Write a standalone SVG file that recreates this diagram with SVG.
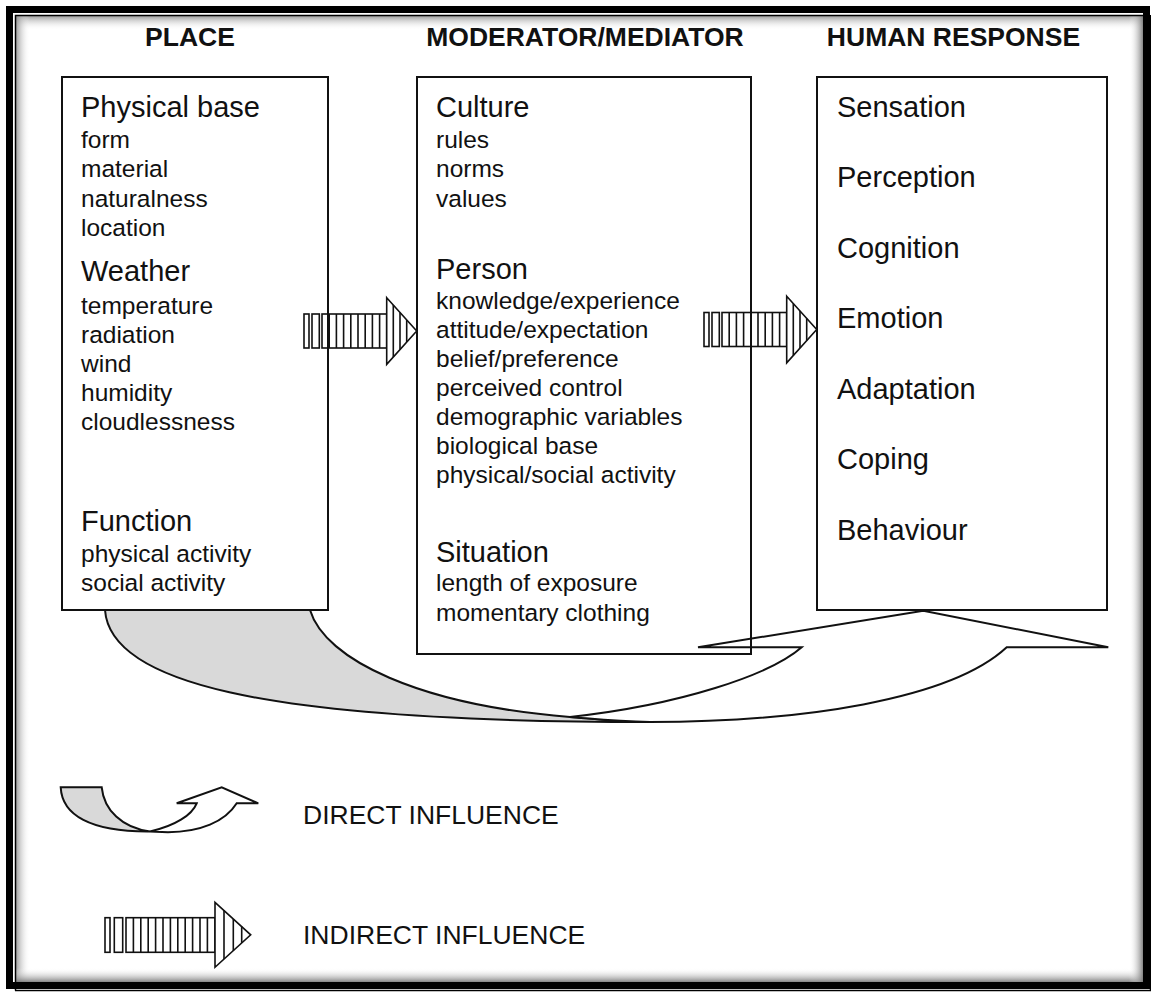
<svg xmlns="http://www.w3.org/2000/svg" width="1151" height="993" viewBox="0 0 1151 993">
<style>
.hdr{font-family:"Liberation Sans",Arial,sans-serif;font-weight:bold;font-size:26.5px;fill:#111;text-anchor:middle}
.big{font-family:"Liberation Sans",Arial,sans-serif;font-size:29px;fill:#111}
.sm{font-family:"Liberation Sans",Arial,sans-serif;font-size:24.5px;fill:#111}
.leg{font-family:"Liberation Sans",Arial,sans-serif;font-size:26.5px;fill:#111}
.box{fill:none;stroke:#111;stroke-width:2}
.sa{fill:#fff;stroke:#111;stroke-width:1.6}
.sl{stroke:#111;stroke-width:1.6;fill:none}
.back{fill:#d9d9d9;stroke:#111;stroke-width:2}
.front{fill:#fff;stroke:#111;stroke-width:2;stroke-linejoin:miter}
</style>
<defs>
<linearGradient id="gT" x1="0" y1="0" x2="0" y2="1"><stop offset="0" stop-color="#888" stop-opacity="0.8"/><stop offset="1" stop-color="#fff" stop-opacity="0"/></linearGradient>
<linearGradient id="gL" x1="0" y1="0" x2="1" y2="0"><stop offset="0" stop-color="#888" stop-opacity="0.8"/><stop offset="1" stop-color="#fff" stop-opacity="0"/></linearGradient>
<linearGradient id="gB" x1="0" y1="1" x2="0" y2="0"><stop offset="0" stop-color="#777" stop-opacity="0.9"/><stop offset="1" stop-color="#fff" stop-opacity="0"/></linearGradient>
<linearGradient id="gR" x1="1" y1="0" x2="0" y2="0"><stop offset="0" stop-color="#777" stop-opacity="0.9"/><stop offset="1" stop-color="#fff" stop-opacity="0"/></linearGradient>
<g id="stripeArrow">
<rect class="sa" x="0" y="-17" width="5" height="34"/>
<rect class="sa" x="8" y="-17" width="7.3" height="34"/>
<rect class="sa" x="18" y="-17" width="64.7" height="34"/>
<path class="sl" d="M25.2,-17V17M32.4,-17V17M39.6,-17V17M46.8,-17V17M54,-17V17M61.2,-17V17M68.4,-17V17M75.6,-17V17"/>
<polygon class="sa" points="82.7,-33.3 112.7,0 82.7,33.3"/>
<path class="sl" d="M89.3,-26V26M96,-18.5V18.5M102.7,-11.1V11.1"/>
</g>
</defs>
<rect width="1151" height="993" fill="#fff"/>
<g id="frame">
<rect x="16" y="16" width="1127" height="14" fill="url(#gT)"/>
<rect x="16" y="16" width="14" height="966" fill="url(#gL)"/>
<rect x="16" y="968" width="1127" height="14" fill="url(#gB)"/>
<rect x="1129" y="16" width="14" height="966" fill="url(#gR)"/>
<rect x="9.5" y="9.5" width="1137" height="976" fill="none" stroke="#000" stroke-width="7"/>
<path d="M15.5,990.5V15.5H1143M1150.5,15V990.5H15" fill="none" stroke="#000" stroke-width="1.5"/>
</g>
<g id="headers">
<text class="hdr" x="190" y="46">PLACE</text>
<text class="hdr" x="585" y="46">MODERATOR/MEDIATOR</text>
<text class="hdr" x="953.5" y="46">HUMAN RESPONSE</text>
</g>
<g id="connectors">
<g id="direct-main">
<path class="back" d="M105,610 L310,610 C325,660 420,705 570,717 C595,719 615,721.5 650,722 C250,722 110,680 105,610 Z"/>
<path class="front" d="M570,717 C680,705 770,675 801.7,647.3 L698,647.3 L923.3,610.7 L1108.3,647.3 L1006.7,647.3 C950,700 800,722 650,722 C615,721.5 595,719 570,717 Z"/>
</g>
<use id="indirect-1" href="#stripeArrow" x="304" y="331"/>
<use id="indirect-2" href="#stripeArrow" x="704" y="329.5"/>
</g>
<g id="place">
<rect class="box" x="62" y="77" width="266" height="533"/>
<text class="big" x="81" y="116.5">Physical base</text>
<text class="sm" x="81" y="148">form</text>
<text class="sm" x="81" y="177">material</text>
<text class="sm" x="81" y="206.5">naturalness</text>
<text class="sm" x="81" y="236">location</text>
<text class="big" x="81" y="281">Weather</text>
<text class="sm" x="81" y="314">temperature</text>
<text class="sm" x="81" y="343">radiation</text>
<text class="sm" x="81" y="372">wind</text>
<text class="sm" x="81" y="401">humidity</text>
<text class="sm" x="81" y="430">cloudlessness</text>
<text class="big" x="81" y="531">Function</text>
<text class="sm" x="81" y="562">physical activity</text>
<text class="sm" x="81" y="591">social activity</text>
</g>
<g id="moderator">
<rect class="box" x="417" y="77" width="334" height="577"/>
<text class="big" x="436" y="116.5">Culture</text>
<text class="sm" x="436" y="148">rules</text>
<text class="sm" x="436" y="177">norms</text>
<text class="sm" x="436" y="206.5">values</text>
<text class="big" x="436" y="279">Person</text>
<text class="sm" x="436" y="309">knowledge/experience</text>
<text class="sm" x="436" y="338">attitude/expectation</text>
<text class="sm" x="436" y="367">belief/preference</text>
<text class="sm" x="436" y="396">perceived control</text>
<text class="sm" x="436" y="425">demographic variables</text>
<text class="sm" x="436" y="454">biological base</text>
<text class="sm" x="436" y="483">physical/social activity</text>
<text class="big" x="436" y="562">Situation</text>
<text class="sm" x="436" y="591">length of exposure</text>
<text class="sm" x="436" y="621">momentary clothing</text>
</g>
<g id="response">
<rect class="box" x="817" y="77" width="290" height="533"/>
<text class="big" x="837" y="116.5">Sensation</text>
<text class="big" x="837" y="187">Perception</text>
<text class="big" x="837" y="257.5">Cognition</text>
<text class="big" x="837" y="328">Emotion</text>
<text class="big" x="837" y="398.5">Adaptation</text>
<text class="big" x="837" y="469">Coping</text>
<text class="big" x="837" y="539.5">Behaviour</text>
</g>
<g id="legend-direct">
<path class="back" d="M60.7,787.3 L101.7,787.3 C104,810 122,828 150,831.5 C90,832 62,815 60.7,787.3 Z"/>
<path class="front" d="M150,831.5 C175,826 192,815 196.7,803.3 L176.7,803.3 L221.7,787.3 L258.3,803.3 L236.7,803.3 C225,822 200,832 168,832.3 Z"/>
<text class="leg" x="303" y="824">DIRECT INFLUENCE</text>
</g>
<g id="legend-indirect">
<rect class="sa" x="105" y="917.7" width="5" height="34.6"/>
<rect class="sa" x="114.3" y="917.7" width="8.4" height="34.6"/>
<rect class="sa" x="126" y="917.7" width="89" height="34.6"/>
<path class="sl" d="M133.4,917.7V952.3M140.8,917.7V952.3M148.2,917.7V952.3M155.6,917.7V952.3M163,917.7V952.3M170.4,917.7V952.3M177.8,917.7V952.3M185.2,917.7V952.3M192.6,917.7V952.3M200,917.7V952.3M207.4,917.7V952.3"/>
<polygon class="sa" points="215,902.3 250.7,934.8 215,967.3"/>
<path class="sl" d="M224,910.5V959.1M233.3,918.9V950.7M241.7,926.6V943"/>
<text class="leg" x="303" y="944">INDIRECT INFLUENCE</text>
</g>
</svg>
